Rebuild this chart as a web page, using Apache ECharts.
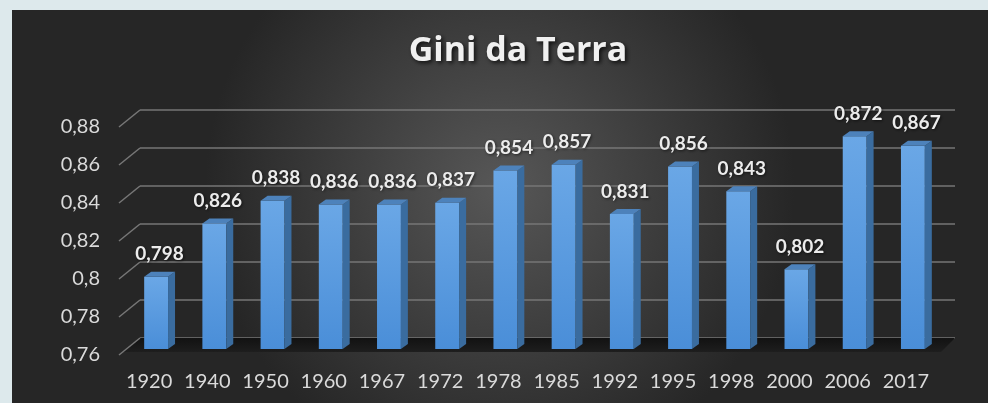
<!DOCTYPE html>
<html>
<head>
<meta charset="utf-8">
<script src="https://cdn.jsdelivr.net/npm/echarts@6/dist/echarts.min.js"></script>
<style>
    html, body { margin: 0; padding: 0; background: #dde9ec; }
    #giniChart { position: absolute; left: 12px; top: 10px; width: 976px; height: 393px; }
</style>
</head>
<body>
<div id="giniChart"></div>
<script>
var years = ['1920', '1940', '1950', '1960', '1967', '1972', '1978', '1985', '1992', '1995', '1998', '2000', '2006', '2017'];
var giniValues = [0.798, 0.826, 0.838, 0.836, 0.836, 0.837, 0.854, 0.857, 0.831, 0.856, 0.843, 0.802, 0.872, 0.867];
var yTicks = [0.76, 0.78, 0.8, 0.82, 0.84, 0.86, 0.88];

var yMin = 0.76;
var yMax = 0.88;
var yStep = 0.02;

function fmtComma(v) {
    return String(+v.toFixed(3)).replace('.', ',');
}

var giniChart;

function renderBar(params, api) {
    var idx = api.value(0);
    var v = api.value(1);
    var top = api.coord([idx, v]);
    var base = api.coord([idx, yMin]);
    var band = api.size([1, 0])[0];
    var w = band * 0.41;
    var dx = 7, dy = 5;
    // front face sits nearer to the viewer than the back wall
    var cx = top[0] - 13;
    var x0 = cx - w / 2, x1 = cx + w / 2;
    var yt = top[1] + 11, yb = base[1] + 11;
    return {
        type: 'group',
        children: [{
            type: 'rect',
            shape: { x: x0, y: yt, width: w, height: yb - yt },
            style: {
                fill: new echarts.graphic.LinearGradient(0, 0, 0, 1, [
                    { offset: 0, color: '#6aa7e6' },
                    { offset: 1, color: '#4a8ed8' }
                ])
            }
        }, {
            type: 'polygon',
            shape: { points: [[x1, yt], [x1 + dx, yt - dy], [x1 + dx, yb - dy], [x1, yb]] },
            style: { fill: '#3a6c9f' }
        }, {
            type: 'polygon',
            shape: { points: [[x0, yt], [x0 + dx, yt - dy], [x1 + dx, yt - dy], [x1, yt]] },
            style: { fill: '#4d82bb' }
        }, {
            type: 'text',
            style: {
                text: fmtComma(v),
                x: cx + dx / 2,
                y: yt - dy - 8,
                align: 'center',
                verticalAlign: 'bottom',
                fill: '#ececec',
                font: 'bold 19px Lato',
                textShadowColor: 'rgba(0,0,0,0.6)',
                textShadowBlur: 3,
                textShadowOffsetX: 1,
                textShadowOffsetY: 1
            }
        }]
    };
}

// slanted tick at the left of the wall plus its label at the front end
function renderDiagonal(params, api) {
    var t = api.value(0);
    var p = api.coord([0, t]);
    var left = params.coordSys.x;
    return {
        type: 'group',
        children: [{
            type: 'line',
            shape: { x1: left, y1: p[1], x2: left - 21, y2: p[1] + 17 },
            style: { stroke: '#777777', lineWidth: 1.5 }
        }, {
            type: 'text',
            style: {
                text: fmtComma(t),
                x: left - 40,
                y: p[1] + 17,
                align: 'right',
                verticalAlign: 'middle',
                fill: '#dadada',
                font: '20px Lato'
            }
        }]
    };
}

function renderFloor(params, api) {
    var p = api.coord([0, api.value(0)]);
    var cs = params.coordSys;
    var l = cs.x, r = cs.x + cs.width, y = p[1];
    return {
        type: 'polygon',
        shape: { points: [[l, y], [r, y], [r - 14, y + 14], [l - 18, y + 14]] },
        style: {
            fill: new echarts.graphic.LinearGradient(0, 0, 0, 1, [
                { offset: 0, color: '#121212' },
                { offset: 1, color: '#1e1e1e' }
            ])
        }
    };
}

function initGiniChart() {
    giniChart = echarts.init(document.getElementById('giniChart'));
    var option = {
        backgroundColor: new echarts.graphic.RadialGradient(0.5, 0.45, 0.75, [
            { offset: 0, color: '#575757' },
            { offset: 1, color: '#262626' }
        ]),
        animation: false,
        title: {
            text: 'Gini da Terra',
            left: 501,
            textAlign: 'center',
            top: 19,
            textStyle: {
                color: '#f0f0f0',
                fontFamily: 'Open Sans',
                fontWeight: 'bold',
                fontSize: 34,
                textShadowColor: 'rgba(0,0,0,0.75)',
                textShadowBlur: 4,
                textShadowOffsetX: 2,
                textShadowOffsetY: 2
            }
        },
        grid: {
            left: 128,
            right: 33,
            top: 100,
            bottom: 65
        },
        xAxis: {
            type: 'category',
            data: years,
            axisLine: { show: false },
            axisTick: { show: false },
            axisLabel: {
                interval: 0,
                hideOverlap: false,
                margin: 34,
                color: '#dadada',
                fontFamily: 'Lato',
                fontSize: 20,
                padding: [0, 40, 0, 0]
            }
        },
        yAxis: {
            type: 'value',
            min: yMin,
            max: yMax,
            interval: yStep,
            axisLine: { show: false },
            axisTick: { show: false },
            axisLabel: { show: false },
            splitLine: {
                show: true,
                lineStyle: { color: '#767676', width: 1.5 }
            }
        },
        series: [{
            name: 'floor',
            type: 'custom',
            renderItem: renderFloor,
            data: [[yMin]],
            encode: { y: 0 },
            z: 1
        }, {
            name: 'diagonal',
            type: 'custom',
            renderItem: renderDiagonal,
            data: yTicks.map(function (t) { return [t]; }),
            encode: { y: 0 },
            z: 1
        }, {
            name: 'Gini',
            type: 'custom',
            renderItem: renderBar,
            data: giniValues.map(function (v, i) { return [i, v]; }),
            encode: { x: 0, y: 1 },
            z: 3
        }]
    };
    giniChart.setOption(option);
}

initGiniChart();
window.addEventListener('resize', function () {
    giniChart.resize();
});
</script>
</body>
</html>
